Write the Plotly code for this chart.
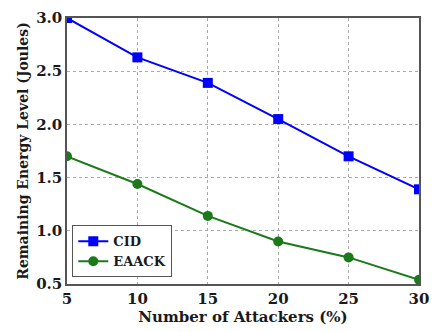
import plotly.graph_objects as go

attackers = [5, 10, 15, 20, 25, 30]
cid = [3.0, 2.63, 2.39, 2.05, 1.70, 1.39]
eaack = [1.70, 1.44, 1.14, 0.90, 0.75, 0.54]
x_ticks = [5, 10, 15, 20, 25, 30]
y_ticks = [0.5, 1.0, 1.5, 2.0, 2.5, 3.0]

font_family = "DejaVu Serif"

fig = go.Figure()
fig.add_trace(go.Scatter(
    x=attackers, y=cid, name="<b>CID</b>", mode="lines+markers",
    line=dict(color="#0000ff", width=2),
    marker=dict(symbol="square", size=10, color="#0000ff"),
))
fig.add_trace(go.Scatter(
    x=attackers, y=eaack, name="<b>EAACK</b>", mode="lines+markers",
    line=dict(color="#1a7a1a", width=2),
    marker=dict(symbol="circle", size=10, color="#1a7a1a"),
))

axis_common = dict(
    showline=True, linecolor="#555555", linewidth=1.5, mirror=True,
    showgrid=True, gridcolor="#aaaaaa", griddash="dot", gridwidth=1,
    zeroline=False, ticks="", ticklabeloverflow="allow",
    tickfont=dict(family=font_family, size=15, color="#1a1a1a"),
)

fig.update_xaxes(
    range=[5, 30], tickvals=x_ticks,
    ticktext=[f"<b>{v}</b>" for v in x_ticks],
    title=dict(text="<b>Number of Attackers (%)</b>", font=dict(family=font_family, size=15, color="#1a1a1a"), standoff=4),
    **axis_common,
)
fig.update_yaxes(
    range=[0.5, 3.0], tickvals=y_ticks,
    ticktext=[f"<b>{v:.1f}</b>" for v in y_ticks],
    title=dict(text="<b>Remaining Energy Level (Joules)</b>", font=dict(family=font_family, size=14, color="#1a1a1a"), standoff=4),
    **axis_common,
)

fig.update_layout(
    width=438, height=332,
    margin=dict(l=67, r=9, t=12, b=48),
    paper_bgcolor="white", plot_bgcolor="white",
    font=dict(family=font_family, color="#1a1a1a"),
    legend=dict(
        x=0.015, y=0.025, xanchor="left", yanchor="bottom",
        bordercolor="#555555", borderwidth=1, bgcolor="white",
        font=dict(family=font_family, size=13, color="#1a1a1a"),
        itemwidth=30, tracegroupgap=0,
    ),
)

fig.write_html("out.html")
